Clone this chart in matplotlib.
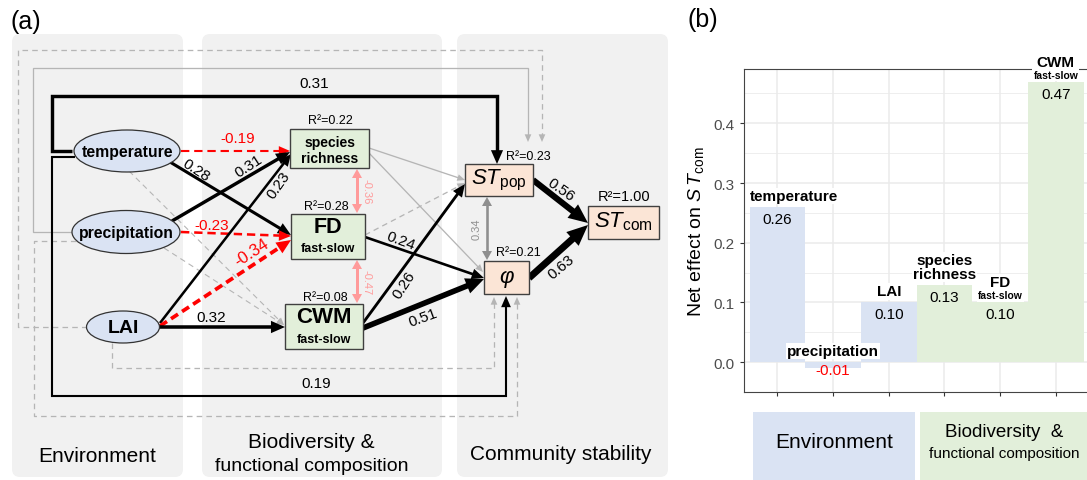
import numpy as np
import matplotlib.pyplot as plt
from matplotlib.patches import FancyBboxPatch, Rectangle, Ellipse, Polygon

plt.rcParams['font.family'] = ['Liberation Sans', 'DejaVu Sans']
plt.rcParams['mathtext.fontset'] = 'custom'
plt.rcParams['mathtext.rm'] = 'Liberation Sans'
plt.rcParams['mathtext.it'] = 'Liberation Sans:italic'
plt.rcParams['mathtext.bf'] = 'Liberation Sans:bold'
plt.rcParams['lines.scale_dashes'] = False

# ---- SEM results (panel a) ----
path_edges = [("temperature", "STpop"), ("temperature", "phi"), ("temperature", "SR"),
              ("temperature", "FD"), ("precipitation", "SR"), ("precipitation", "FD"),
              ("LAI", "SR"), ("LAI", "FD"), ("LAI", "CWM"), ("FD", "phi"),
              ("CWM", "STpop"), ("CWM", "phi"), ("STpop", "STcom"), ("phi", "STcom")]
path_coefs = [0.31, 0.19, -0.19, 0.28, 0.31, -0.23, 0.23, -0.34, 0.32, 0.24, 0.26, 0.51, 0.56, 0.63]
cov_edges = [("SR", "FD"), ("FD", "CWM"), ("STpop", "phi")]
cov_coefs = [-0.36, -0.47, 0.34]
r2_nodes = ["SR", "FD", "CWM", "STpop", "phi", "STcom"]
r2_values = [0.22, 0.28, 0.08, 0.23, 0.21, 1.00]

# ---- net effects on ST_com (panel b) ----
effect_names = ["temperature", "precipitation", "LAI", "species\nrichness", "FD", "CWM"]
effect_sub = ["", "", "", "", "fast-slow", "fast-slow"]
net_effects = [0.26, -0.01, 0.10, 0.13, 0.10, 0.47]
effect_group = ["env", "env", "env", "bio", "bio", "bio"]

BLUE = '#dae3f3'
GREEN = '#e2efda'
ORANGE = '#fbe5d6'
GREY = '#b5b5b5'
RED = '#ff0000'
PINK = '#ff9a9a'

fig = plt.figure(figsize=(10.87, 4.81), dpi=100)
ax = fig.add_axes([0, 0, 1, 1])
ax.set_xlim(0, 1087)
ax.set_ylim(481, 0)
ax.axis('off')


def head(p0, p1, color, L, W, z):
    p0, p1 = np.asarray(p0, float), np.asarray(p1, float)
    u = (p1 - p0) / np.hypot(*(p1 - p0))
    n = np.array([-u[1], u[0]])
    base = p1 - L * u
    ax.add_patch(Polygon([p1, base + W * n, base - W * n], closed=True,
                         fc=color, ec='none', zorder=z))


def path(pts, color, wpx, dash=None, z=2, hs=1.0):
    pts = np.array(pts, float)
    L = (7 + 2.0 * wpx) * hs
    W = (3 + 0.9 * wpx) * hs
    u = pts[-1] - pts[-2]
    u /= np.hypot(*u)
    line = pts.copy()
    line[-1] = pts[-1] - 0.7 * L * u
    kw = dict(color=color, lw=wpx * 0.72, zorder=z, solid_capstyle='butt',
              solid_joinstyle='miter', dash_capstyle='butt')
    if dash:
        ax.plot(line[:, 0], line[:, 1], ls='--', dashes=dash, **kw)
    else:
        ax.plot(line[:, 0], line[:, 1], **kw)
    head(pts[-2], pts[-1], color, L, W, z)


def double(p0, p1, color, wpx, L=9, W=5):
    p0, p1 = np.asarray(p0, float), np.asarray(p1, float)
    u = (p1 - p0) / np.hypot(*(p1 - p0))
    a, b = p0 + 0.7 * L * u, p1 - 0.7 * L * u
    ax.plot([a[0], b[0]], [a[1], b[1]], color=color, lw=wpx * 0.72, zorder=3,
            solid_capstyle='butt')
    head(p0 + u, p0, color, L, W, 3)
    head(p1 - u, p1, color, L, W, 3)


# column backgrounds
for x0, x1 in [(12, 183), (202, 442), (457, 668)]:
    ax.add_patch(FancyBboxPatch((x0, 35), x1 - x0, 443,
                                boxstyle='round,pad=0,rounding_size=8',
                                fc='#f1f1f1', ec='none', zorder=0))

ax.text(26, 22, '(a)', fontsize=18, ha='center', va='center')
ax.text(703, 20, '(b)', fontsize=18, ha='center', va='center')
ax.text(97, 457, 'Environment', fontsize=15, ha='center', va='center')
ax.text(311, 443, 'Biodiversity &', fontsize=15, ha='center', va='center')
ax.text(312, 467, 'functional composition', fontsize=14, ha='center', va='center')
ax.text(561, 455, 'Community stability', fontsize=15, ha='center', va='center')

# non-significant paths (grey)
path([(72, 233), (33, 233), (33, 69), (528, 69), (528, 143)], GREY, 1.3, hs=0.8)
path([(87, 328), (18, 328), (18, 51), (542, 51), (542, 143)], GREY, 1.3, dash=(4, 3), hs=0.8)
path([(76, 242), (34, 242), (34, 417), (517, 417), (517, 298)], GREY, 1.3, dash=(4, 3), hs=0.8)
path([(112, 344), (112, 369), (494, 369), (494, 298)], GREY, 1.3, dash=(4, 3), hs=0.8)
path([(129, 172), (284, 326)], GREY, 1.1, dash=(4, 3), hs=0.8)
path([(164, 249), (284, 326)], GREY, 1.1, dash=(4, 3), hs=0.8)
path([(369, 149), (465, 181)], GREY, 1.3, hs=0.8)
path([(369, 154), (483, 273)], GREY, 1.3, hs=0.8)
path([(365, 236), (465, 184)], GREY, 1.3, dash=(4, 3), hs=0.8)

# significant paths
route = {
    ("temperature", "STpop"): [(72, 152), (52, 152), (52, 97), (497, 97), (497, 165)],
    ("temperature", "phi"): [(75, 158), (52, 158), (52, 397), (506, 397), (506, 297)],
    ("temperature", "SR"): [(181, 152), (290, 152)],
    ("temperature", "FD"): [(170, 163), (291, 236)],
    ("precipitation", "SR"): [(172, 222), (290, 153)],
    ("precipitation", "FD"): [(181, 233), (291, 237)],
    ("LAI", "SR"): [(160, 324), (291, 155)],
    ("LAI", "FD"): [(160, 327), (291, 241)],
    ("LAI", "CWM"): [(160, 328), (285, 328)],
    ("FD", "phi"): [(365, 238), (484, 279)],
    ("CWM", "STpop"): [(363, 324), (465, 185)],
    ("CWM", "phi"): [(363, 329), (484, 280)],
    ("STpop", "STcom"): [(533, 181), (588, 224)],
    ("phi", "STcom"): [(529, 279), (588, 226)],
}
label_at = {
    ("temperature", "STpop"): (314, 84, 0),
    ("temperature", "phi"): (316, 384, 0),
    ("temperature", "SR"): (238, 139, 0),
    ("temperature", "FD"): (196, 171, -33),
    ("precipitation", "SR"): (249, 167, 33),
    ("precipitation", "FD"): (212, 226, 0),
    ("LAI", "SR"): (279, 186, 55),
    ("LAI", "FD"): (252, 253, 33),
    ("LAI", "CWM"): (211, 318, 0),
    ("FD", "phi"): (401, 241, -20),
    ("CWM", "STpop"): (404, 285, 57),
    ("CWM", "phi"): (423, 318, 20),
    ("STpop", "STcom"): (561, 190, -35),
    ("phi", "STcom"): (561, 267, 40),
}
for edge, c in zip(path_edges, path_coefs):
    w = 11 * abs(c)
    if c < 0:
        path(route[edge], RED, w, dash=(6, 3.5), z=3)
    else:
        path(route[edge], 'black', w, z=3)
    x, y, rot = label_at[edge]
    ax.text(x, y, f'{c:.2f}', fontsize=12 if c < -0.3 else 11, rotation=rot,
            ha='center', va='center', color=RED if c < 0 else 'black', zorder=6)

# residual covariances
cov_geom = {("SR", "FD"): ((357, 170), (357, 214), (366, 192), PINK, 270),
            ("FD", "CWM"): ((357, 261), (357, 304), (366, 283), PINK, 270),
            ("STpop", "phi"): ((487, 198), (487, 261), (477, 229), '#8f8f8f', 90)}
for edge, c in zip(cov_edges, cov_coefs):
    p0, p1, (lx, ly), col, rot = cov_geom[edge]
    double(p0, p1, col, 3.0 if col == PINK else 2.6)
    ax.text(lx, ly, f'{c:.2f}', fontsize=8, rotation=rot, color=col,
            ha='center', va='center', zorder=6)

# nodes
for cx, cy, w, h, txt, fs in [(127, 152, 106, 42, 'temperature', 11.3),
                              (126, 233, 108, 43, 'precipitation', 11.3),
                              (123, 328, 73, 32, 'LAI', 14)]:
    ax.add_patch(Ellipse((cx, cy), w, h, fc=BLUE, ec='#333333', lw=0.9, zorder=5))
    ax.text(cx, cy + 1, txt, fontsize=fs, fontweight='bold', ha='center', va='center', zorder=6)

boxes = {"SR": (290, 130, 79, 39, GREEN), "FD": (291, 215, 74, 45, GREEN),
         "CWM": (285, 305, 78, 45, GREEN), "STpop": (465, 165, 68, 32, ORANGE),
         "phi": (484, 262, 45, 33, ORANGE), "STcom": (588, 207, 71, 33, ORANGE)}
for key, (x0, y0, w, h, fc) in boxes.items():
    ax.add_patch(Rectangle((x0, y0), w, h, fc=fc, ec='#404040', lw=1.0, zorder=5))

ax.text(330, 143, 'species', fontsize=10, fontweight='bold', ha='center', va='center', zorder=6)
ax.text(330, 159, 'richness', fontsize=10, fontweight='bold', ha='center', va='center', zorder=6)
ax.text(328, 228, 'FD', fontsize=15.5, fontweight='bold', ha='center', va='center', zorder=6)
ax.text(328, 249, 'fast-slow', fontsize=9, fontweight='bold', ha='center', va='center', zorder=6)
ax.text(324, 318, 'CWM', fontsize=16, fontweight='bold', ha='center', va='center', zorder=6)
ax.text(324, 340, 'fast-slow', fontsize=9, fontweight='bold', ha='center', va='center', zorder=6)
ax.text(499, 180, r'$\mathit{ST}_{\mathrm{pop}}$', fontsize=16, ha='center', va='center', zorder=6)
ax.text(623, 222, r'$\mathit{ST}_{\mathrm{com}}$', fontsize=16, ha='center', va='center', zorder=6)
ax.text(506, 278, 'φ', fontsize=16, fontstyle='italic', ha='center', va='center', zorder=6)

r2_pos = {"SR": (330, 121, 9), "FD": (326, 207, 9), "CWM": (325, 298, 9),
          "STpop": (528, 157, 9), "phi": (518, 253, 9), "STcom": (624, 197, 10.5)}
for node, r2 in zip(r2_nodes, r2_values):
    x, y, fs = r2_pos[node]
    ax.text(x, y, f'R²={r2:.2f}', fontsize=fs, ha='center', va='center', zorder=6)

# group strips under panel (b)
ax.add_patch(Rectangle((753, 413), 162, 68, fc=BLUE, ec='none'))
ax.add_patch(Rectangle((920, 413), 167, 68, fc=GREEN, ec='none'))
ax.text(834, 443, 'Environment', fontsize=15, ha='center', va='center')
ax.text(1004, 433, 'Biodiversity  &', fontsize=13.5, ha='center', va='center')
ax.text(1004, 454, 'functional composition', fontsize=11, ha='center', va='center')

# ---- panel (b) ----
W, H = 1087, 481
axb = fig.add_axes([744 / W, (H - 393) / H, (W - 744) / W, (393 - 70) / H])
axb.set_zorder(10)
xs = np.arange(len(net_effects))
cols = [BLUE if g == "env" else GREEN for g in effect_group]
axb.bar(xs, net_effects, width=1.0, color=cols, zorder=2)
axb.set_xlim(-0.6, 5.56)
axb.set_ylim(-0.036, 0.491)
axb.set_xticks(xs)
axb.set_xticklabels([])
axb.set_yticks([0, 0.1, 0.2, 0.3, 0.4])
axb.set_yticklabels(['0.0', '0.1', '0.2', '0.3', '0.4'])
axb.set_yticks(np.arange(-0.05, 0.5, 0.05), minor=True)
axb.tick_params(axis='both', which='major', length=3, color='#333333', labelsize=11,
                labelcolor='#4d4d4d', width=0.8)
axb.tick_params(axis='y', which='minor', length=0)
axb.set_axisbelow(True)
axb.grid(which='major', color='#ebebeb', lw=1.1)
axb.grid(which='minor', axis='y', color='#ebebeb', lw=0.6)
for s in ['left', 'bottom', 'top']:
    axb.spines[s].set_color('#444444')
    axb.spines[s].set_linewidth(0.8)
axb.spines['right'].set_visible(False)
axb.set_ylabel(r'Net effect on $\mathit{S\,T}_{\mathrm{com}}$', fontsize=14, labelpad=6)

px = 0.72
name_shift = [17, 0, 0, 0, 0, 0]
for i, (v, name, sub) in enumerate(zip(net_effects, effect_names, effect_sub)):
    top = max(v, 0)
    bb = dict(fc='white', ec='none', pad=0.8)
    dx = name_shift[i] * px
    if v >= 0:
        axb.annotate(f'{v:.2f}', (i, v), xytext=(0, -12 * px), textcoords='offset points',
                     ha='center', va='center', fontsize=11, zorder=5)
    else:
        axb.annotate(f'{v:.2f}', (i, 0), xytext=(0, -8 * px), textcoords='offset points',
                     ha='center', va='center', fontsize=11, color=RED, zorder=5)
    if sub:
        axb.annotate(sub, (i, top), xytext=(dx, 2 * px), textcoords='offset points',
                     ha='center', va='bottom', fontsize=7.5, fontweight='bold', bbox=bb,
                     annotation_clip=False, zorder=5)
        axb.annotate(name, (i, top), xytext=(dx, 13 * px), textcoords='offset points',
                     ha='center', va='bottom', fontsize=11, fontweight='bold', bbox=bb,
                     annotation_clip=False, zorder=5)
    else:
        axb.annotate(name, (i, top), xytext=(dx, 4 * px), textcoords='offset points',
                     ha='center', va='bottom', fontsize=11, fontweight='bold', bbox=bb,
                     linespacing=0.95, annotation_clip=False, zorder=5)

fig.savefig('out.png', dpi=100)
